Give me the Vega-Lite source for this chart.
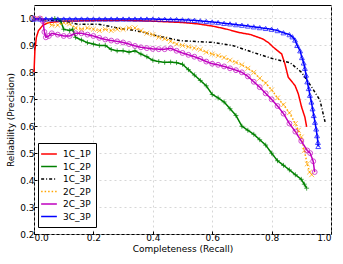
{
  "$schema": "https://vega.github.io/schema/vega-lite/v6.json",
  "width": 297,
  "height": 229,
  "autosize": {"type": "none"},
  "padding": {"left": 34, "top": 5, "right": 12, "bottom": 30},
  "background": "white",
  "config": {
    "font": "DejaVu Sans",
    "view": {"stroke": "black", "strokeWidth": 1},
    "axis": {
      "labelFont": "DejaVu Sans", "titleFont": "DejaVu Sans",
      "labelFontSize": 9, "titleFontSize": 9, "titleFontWeight": "normal",
      "labelColor": "black", "titleColor": "black",
      "domain": false, "tickColor": "black", "tickSize": -3,
      "grid": true, "gridColor": "#cccccc", "gridDash": [2, 3], "gridWidth": 0.8
    }
  },
  "datasets": {
    "d": [
      {"s":"1C_1P","x":0,"y":0.80},{"s":"1C_1P","x":0.003,"y":0.88},{"s":"1C_1P","x":0.008,"y":0.93},{"s":"1C_1P","x":0.015,"y":0.955},{"s":"1C_1P","x":0.03,"y":0.975},{"s":"1C_1P","x":0.05,"y":0.985},{"s":"1C_1P","x":0.1,"y":0.99},{"s":"1C_1P","x":0.2,"y":0.992},{"s":"1C_1P","x":0.3,"y":0.993},{"s":"1C_1P","x":0.4,"y":0.99},{"s":"1C_1P","x":0.5,"y":0.985},{"s":"1C_1P","x":0.55,"y":0.98},{"s":"1C_1P","x":0.6,"y":0.972},{"s":"1C_1P","x":0.65,"y":0.96},{"s":"1C_1P","x":0.69,"y":0.948},{"s":"1C_1P","x":0.73,"y":0.94},{"s":"1C_1P","x":0.77,"y":0.924},{"s":"1C_1P","x":0.79,"y":0.91},{"s":"1C_1P","x":0.806,"y":0.893},{"s":"1C_1P","x":0.834,"y":0.868},{"s":"1C_1P","x":0.845,"y":0.831},{"s":"1C_1P","x":0.856,"y":0.782},{"s":"1C_1P","x":0.879,"y":0.751},{"s":"1C_1P","x":0.89,"y":0.72},{"s":"1C_1P","x":0.901,"y":0.671},{"s":"1C_1P","x":0.912,"y":0.634},{"s":"1C_1P","x":0.918,"y":0.598},

      {"s":"1C_2P","x":0.07,"y":1.0},{"s":"1C_2P","x":0.09,"y":0.99},{"s":"1C_2P","x":0.1,"y":0.96},{"s":"1C_2P","x":0.12,"y":0.955},{"s":"1C_2P","x":0.13,"y":0.96},{"s":"1C_2P","x":0.14,"y":0.93},{"s":"1C_2P","x":0.16,"y":0.92},{"s":"1C_2P","x":0.18,"y":0.91},{"s":"1C_2P","x":0.2,"y":0.905},{"s":"1C_2P","x":0.22,"y":0.9},{"s":"1C_2P","x":0.24,"y":0.9},{"s":"1C_2P","x":0.26,"y":0.885},{"s":"1C_2P","x":0.28,"y":0.88},{"s":"1C_2P","x":0.3,"y":0.88},{"s":"1C_2P","x":0.32,"y":0.875},{"s":"1C_2P","x":0.34,"y":0.88},{"s":"1C_2P","x":0.36,"y":0.868},{"s":"1C_2P","x":0.38,"y":0.858},{"s":"1C_2P","x":0.4,"y":0.845},{"s":"1C_2P","x":0.42,"y":0.84},{"s":"1C_2P","x":0.44,"y":0.837},{"s":"1C_2P","x":0.46,"y":0.838},{"s":"1C_2P","x":0.48,"y":0.836},{"s":"1C_2P","x":0.5,"y":0.83},{"s":"1C_2P","x":0.52,"y":0.81},{"s":"1C_2P","x":0.54,"y":0.79},{"s":"1C_2P","x":0.56,"y":0.77},{"s":"1C_2P","x":0.58,"y":0.75},{"s":"1C_2P","x":0.6,"y":0.718},{"s":"1C_2P","x":0.62,"y":0.705},{"s":"1C_2P","x":0.64,"y":0.69},{"s":"1C_2P","x":0.66,"y":0.665},{"s":"1C_2P","x":0.68,"y":0.64},{"s":"1C_2P","x":0.7,"y":0.6},{"s":"1C_2P","x":0.72,"y":0.585},{"s":"1C_2P","x":0.74,"y":0.57},{"s":"1C_2P","x":0.76,"y":0.55},{"s":"1C_2P","x":0.78,"y":0.53},{"s":"1C_2P","x":0.8,"y":0.5},{"s":"1C_2P","x":0.82,"y":0.472},{"s":"1C_2P","x":0.84,"y":0.455},{"s":"1C_2P","x":0.86,"y":0.438},{"s":"1C_2P","x":0.88,"y":0.42},{"s":"1C_2P","x":0.9,"y":0.403},{"s":"1C_2P","x":0.91,"y":0.385},{"s":"1C_2P","x":0.918,"y":0.37},

      {"s":"1C_3P","x":0.03,"y":0.995},{"s":"1C_3P","x":0.1,"y":0.99},{"s":"1C_3P","x":0.15,"y":0.978},{"s":"1C_3P","x":0.217,"y":0.979},{"s":"1C_3P","x":0.28,"y":0.965},{"s":"1C_3P","x":0.346,"y":0.954},{"s":"1C_3P","x":0.413,"y":0.936},{"s":"1C_3P","x":0.49,"y":0.918},{"s":"1C_3P","x":0.55,"y":0.914},{"s":"1C_3P","x":0.604,"y":0.911},{"s":"1C_3P","x":0.671,"y":0.899},{"s":"1C_3P","x":0.738,"y":0.874},{"s":"1C_3P","x":0.806,"y":0.85},{"s":"1C_3P","x":0.862,"y":0.836},{"s":"1C_3P","x":0.901,"y":0.80},{"s":"1C_3P","x":0.935,"y":0.745},{"s":"1C_3P","x":0.963,"y":0.696},{"s":"1C_3P","x":0.98,"y":0.616},

      {"s":"2C_2P","x":0,"y":1.0},{"s":"2C_2P","x":0.02,"y":1.0},{"s":"2C_2P","x":0.04,"y":0.99},{"s":"2C_2P","x":0.06,"y":0.975},{"s":"2C_2P","x":0.08,"y":0.975},{"s":"2C_2P","x":0.1,"y":0.985},{"s":"2C_2P","x":0.12,"y":0.98},{"s":"2C_2P","x":0.14,"y":0.965},{"s":"2C_2P","x":0.16,"y":0.96},{"s":"2C_2P","x":0.18,"y":0.965},{"s":"2C_2P","x":0.2,"y":0.96},{"s":"2C_2P","x":0.22,"y":0.955},{"s":"2C_2P","x":0.24,"y":0.96},{"s":"2C_2P","x":0.26,"y":0.955},{"s":"2C_2P","x":0.28,"y":0.96},{"s":"2C_2P","x":0.3,"y":0.96},{"s":"2C_2P","x":0.32,"y":0.965},{"s":"2C_2P","x":0.34,"y":0.965},{"s":"2C_2P","x":0.36,"y":0.955},{"s":"2C_2P","x":0.38,"y":0.945},{"s":"2C_2P","x":0.4,"y":0.94},{"s":"2C_2P","x":0.42,"y":0.93},{"s":"2C_2P","x":0.44,"y":0.925},{"s":"2C_2P","x":0.46,"y":0.915},{"s":"2C_2P","x":0.48,"y":0.905},{"s":"2C_2P","x":0.5,"y":0.9},{"s":"2C_2P","x":0.52,"y":0.895},{"s":"2C_2P","x":0.54,"y":0.89},{"s":"2C_2P","x":0.56,"y":0.885},{"s":"2C_2P","x":0.58,"y":0.875},{"s":"2C_2P","x":0.6,"y":0.868},{"s":"2C_2P","x":0.62,"y":0.862},{"s":"2C_2P","x":0.64,"y":0.855},{"s":"2C_2P","x":0.66,"y":0.845},{"s":"2C_2P","x":0.68,"y":0.837},{"s":"2C_2P","x":0.7,"y":0.828},{"s":"2C_2P","x":0.72,"y":0.815},{"s":"2C_2P","x":0.74,"y":0.8},{"s":"2C_2P","x":0.76,"y":0.778},{"s":"2C_2P","x":0.78,"y":0.76},{"s":"2C_2P","x":0.8,"y":0.735},{"s":"2C_2P","x":0.82,"y":0.705},{"s":"2C_2P","x":0.84,"y":0.68},{"s":"2C_2P","x":0.86,"y":0.65},{"s":"2C_2P","x":0.88,"y":0.61},{"s":"2C_2P","x":0.89,"y":0.585},{"s":"2C_2P","x":0.9,"y":0.56},{"s":"2C_2P","x":0.91,"y":0.51},{"s":"2C_2P","x":0.92,"y":0.46},{"s":"2C_2P","x":0.928,"y":0.43},{"s":"2C_2P","x":0.935,"y":0.42},

      {"s":"2C_3P","x":0,"y":1.0},{"s":"2C_3P","x":0.02,"y":1.0},{"s":"2C_3P","x":0.03,"y":0.99},{"s":"2C_3P","x":0.035,"y":0.95},{"s":"2C_3P","x":0.04,"y":0.93},{"s":"2C_3P","x":0.05,"y":0.935},{"s":"2C_3P","x":0.06,"y":0.945},{"s":"2C_3P","x":0.08,"y":0.94},{"s":"2C_3P","x":0.1,"y":0.935},{"s":"2C_3P","x":0.12,"y":0.935},{"s":"2C_3P","x":0.14,"y":0.945},{"s":"2C_3P","x":0.16,"y":0.945},{"s":"2C_3P","x":0.18,"y":0.94},{"s":"2C_3P","x":0.2,"y":0.935},{"s":"2C_3P","x":0.22,"y":0.928},{"s":"2C_3P","x":0.24,"y":0.922},{"s":"2C_3P","x":0.26,"y":0.918},{"s":"2C_3P","x":0.28,"y":0.915},{"s":"2C_3P","x":0.3,"y":0.911},{"s":"2C_3P","x":0.32,"y":0.905},{"s":"2C_3P","x":0.34,"y":0.898},{"s":"2C_3P","x":0.36,"y":0.893},{"s":"2C_3P","x":0.38,"y":0.89},{"s":"2C_3P","x":0.4,"y":0.887},{"s":"2C_3P","x":0.42,"y":0.886},{"s":"2C_3P","x":0.44,"y":0.886},{"s":"2C_3P","x":0.46,"y":0.889},{"s":"2C_3P","x":0.48,"y":0.88},{"s":"2C_3P","x":0.5,"y":0.872},{"s":"2C_3P","x":0.52,"y":0.865},{"s":"2C_3P","x":0.54,"y":0.858},{"s":"2C_3P","x":0.56,"y":0.85},{"s":"2C_3P","x":0.58,"y":0.84},{"s":"2C_3P","x":0.6,"y":0.832},{"s":"2C_3P","x":0.62,"y":0.828},{"s":"2C_3P","x":0.64,"y":0.822},{"s":"2C_3P","x":0.66,"y":0.815},{"s":"2C_3P","x":0.68,"y":0.808},{"s":"2C_3P","x":0.7,"y":0.8},{"s":"2C_3P","x":0.72,"y":0.785},{"s":"2C_3P","x":0.74,"y":0.765},{"s":"2C_3P","x":0.76,"y":0.745},{"s":"2C_3P","x":0.78,"y":0.722},{"s":"2C_3P","x":0.8,"y":0.7},{"s":"2C_3P","x":0.82,"y":0.675},{"s":"2C_3P","x":0.84,"y":0.647},{"s":"2C_3P","x":0.86,"y":0.61},{"s":"2C_3P","x":0.88,"y":0.58},{"s":"2C_3P","x":0.9,"y":0.545},{"s":"2C_3P","x":0.92,"y":0.51},{"s":"2C_3P","x":0.93,"y":0.5},{"s":"2C_3P","x":0.94,"y":0.47},{"s":"2C_3P","x":0.945,"y":0.43},

      {"s":"3C_3P","x":0,"y":0.998},{"s":"3C_3P","x":0.02,"y":0.998},{"s":"3C_3P","x":0.04,"y":0.998},{"s":"3C_3P","x":0.06,"y":0.998},{"s":"3C_3P","x":0.08,"y":0.998},{"s":"3C_3P","x":0.1,"y":0.998},{"s":"3C_3P","x":0.12,"y":0.998},{"s":"3C_3P","x":0.14,"y":0.998},{"s":"3C_3P","x":0.16,"y":0.998},{"s":"3C_3P","x":0.18,"y":0.998},{"s":"3C_3P","x":0.2,"y":0.998},{"s":"3C_3P","x":0.22,"y":0.998},{"s":"3C_3P","x":0.24,"y":0.998},{"s":"3C_3P","x":0.26,"y":0.998},{"s":"3C_3P","x":0.28,"y":0.998},{"s":"3C_3P","x":0.3,"y":0.998},{"s":"3C_3P","x":0.32,"y":0.998},{"s":"3C_3P","x":0.34,"y":0.998},{"s":"3C_3P","x":0.36,"y":0.998},{"s":"3C_3P","x":0.38,"y":0.998},{"s":"3C_3P","x":0.4,"y":0.998},{"s":"3C_3P","x":0.42,"y":0.997},{"s":"3C_3P","x":0.44,"y":0.997},{"s":"3C_3P","x":0.46,"y":0.996},{"s":"3C_3P","x":0.48,"y":0.996},{"s":"3C_3P","x":0.5,"y":0.995},{"s":"3C_3P","x":0.52,"y":0.994},{"s":"3C_3P","x":0.54,"y":0.993},{"s":"3C_3P","x":0.56,"y":0.991},{"s":"3C_3P","x":0.58,"y":0.989},{"s":"3C_3P","x":0.6,"y":0.987},{"s":"3C_3P","x":0.62,"y":0.985},{"s":"3C_3P","x":0.64,"y":0.982},{"s":"3C_3P","x":0.66,"y":0.98},{"s":"3C_3P","x":0.68,"y":0.977},{"s":"3C_3P","x":0.7,"y":0.975},{"s":"3C_3P","x":0.72,"y":0.972},{"s":"3C_3P","x":0.74,"y":0.969},{"s":"3C_3P","x":0.76,"y":0.966},{"s":"3C_3P","x":0.78,"y":0.963},{"s":"3C_3P","x":0.8,"y":0.96},{"s":"3C_3P","x":0.82,"y":0.955},{"s":"3C_3P","x":0.84,"y":0.947},{"s":"3C_3P","x":0.86,"y":0.94},{"s":"3C_3P","x":0.87,"y":0.932},{"s":"3C_3P","x":0.879,"y":0.92},{"s":"3C_3P","x":0.886,"y":0.9},{"s":"3C_3P","x":0.896,"y":0.88},{"s":"3C_3P","x":0.902,"y":0.855},{"s":"3C_3P","x":0.908,"y":0.835},{"s":"3C_3P","x":0.912,"y":0.815},{"s":"3C_3P","x":0.916,"y":0.79},{"s":"3C_3P","x":0.92,"y":0.765},{"s":"3C_3P","x":0.925,"y":0.74},{"s":"3C_3P","x":0.929,"y":0.715},{"s":"3C_3P","x":0.934,"y":0.69},{"s":"3C_3P","x":0.938,"y":0.665},{"s":"3C_3P","x":0.942,"y":0.64},{"s":"3C_3P","x":0.946,"y":0.615},{"s":"3C_3P","x":0.95,"y":0.59},{"s":"3C_3P","x":0.953,"y":0.565},{"s":"3C_3P","x":0.956,"y":0.54},{"s":"3C_3P","x":0.957,"y":0.525}
    ]
  },
  "data": {"name": "d"},
  "encoding": {
    "x": {"field": "x", "type": "quantitative", "title": "Completeness (Recall)",
          "scale": {"domain": [0, 1], "nice": false, "zero": false},
          "axis": {"values": [0, 0.2, 0.4, 0.6, 0.8, 1.0], "format": ".1f", "labelPadding": 2, "titlePadding": 2}},
    "y": {"field": "y", "type": "quantitative", "title": "Reliability (Precision)",
          "scale": {"domain": [0.2, 1.05], "nice": false, "zero": false},
          "axis": {"values": [0.2, 0.3, 0.4, 0.5, 0.6, 0.7, 0.8, 0.9, 1.0], "format": ".1f", "labelPadding": 3, "titlePadding": 4}}
  },
  "layer": [
    {
      "mark": {"type": "line", "strokeWidth": 1.5, "interpolate": "linear"},
      "encoding": {
        "color": {"field": "s", "type": "nominal", "title": null,
          "scale": {"domain": ["1C_1P","1C_2P","1C_3P","2C_2P","2C_3P","3C_3P"],
                    "range": ["#ff0000","#008000","#000000","#ffa500","#bf00bf","#0000ff"]},
          "legend": {"orient": "none", "legendX": 4, "legendY": 138, "symbolType": "M-1.5,0L1.5,0",
                     "symbolSize": 110, "symbolStrokeWidth": 1.5, "labelFontSize": 9, "labelFont": "DejaVu Sans",
                     "labelColor": "black", "rowPadding": 1.5, "padding": 5, "strokeColor": "black",
                     "fillColor": "white", "labelOffset": 8, "cornerRadius": 0}},
        "strokeDash": {"field": "s", "type": "nominal", "title": null,
          "scale": {"domain": ["1C_1P","1C_2P","1C_3P","2C_2P","2C_3P","3C_3P"],
                    "range": [[1,0],[1,0],[3,2,1,2],[1.5,2],[1,0],[1,0]]}},
        "order": {"field": "x", "type": "quantitative"}
      }
    },
    {
      "transform": [{"filter": "datum.s != '1C_1P' && datum.s != '1C_3P'"}],
      "mark": {"type": "point", "filled": false, "size": 24, "strokeWidth": 1},
      "encoding": {
        "color": {"field": "s", "type": "nominal", "legend": null},
        "shape": {"field": "s", "type": "nominal", "legend": null,
          "scale": {"domain": ["1C_2P","2C_2P","2C_3P","3C_3P"],
                    "range": ["M-1,0L1,0M0,-1L0,1","M-1,-1L1,1M-1,1L1,-1","circle","triangle-up"]}}
      }
    }
  ]
}
